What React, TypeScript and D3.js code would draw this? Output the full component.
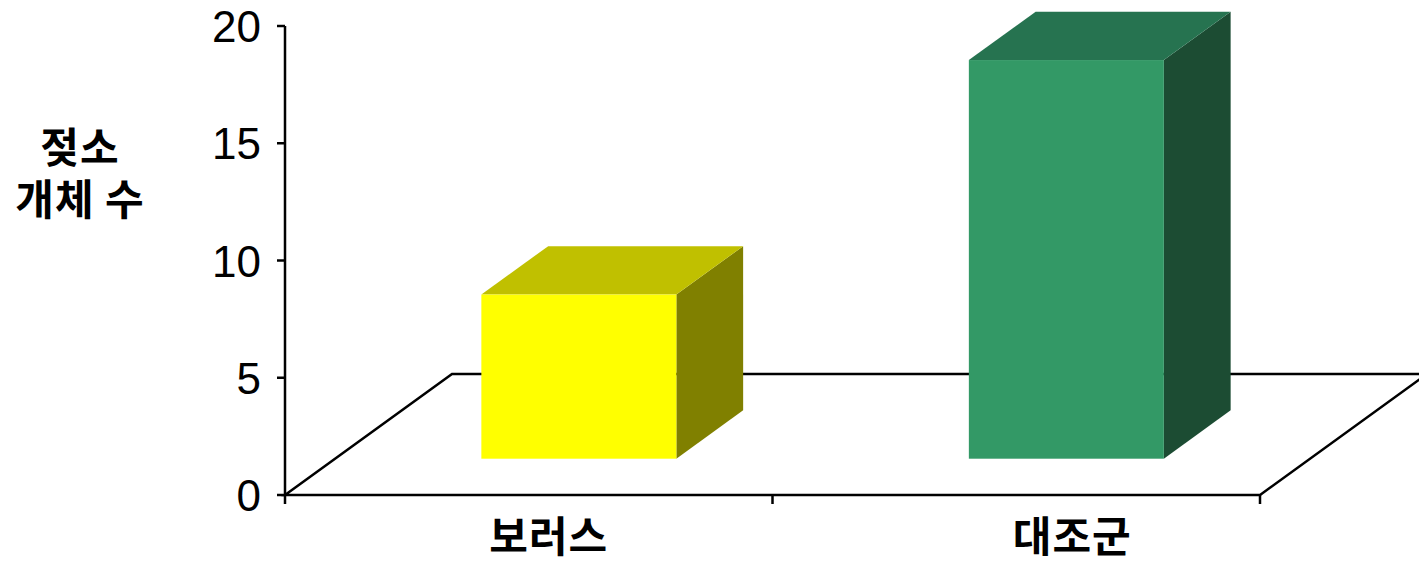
import React from "react";
import * as d3 from "d3";

const categories = ["보러스", "대조군"];
const values = [7, 17];
const yTicks = [0, 5, 10, 15, 20];
const frontColors = ["#FFFF00", "#339966"];
const topColors = ["#C0C000", "#267350"];
const sideColors = ["#808000", "#1C4C33"];
const yTitleLines = ["젖소", "개체 수"];
const labelShift = [20, 56];

export default function App() {
  const W = 1419, H = 562;
  const x0 = 285, x1 = 1260;
  const y = d3.scaleLinear().domain([0, 20]).range([495, 26]);
  const x = d3.scaleBand<string>().domain(categories).range([x0, x1]).paddingInner(0.6).paddingOuter(0.3);
  const step = x.step();
  const dX = 167, dY = -121; // floor depth vector
  const f1 = 0.3, f2 = 0.7;
  const base = y(0);
  const pt = (px: number, py: number) => `${px},${py}`;
  const korFont = "'Noto Sans CJK KR', 'Noto Sans', sans-serif";

  return (
    <svg width={W} height={H} style={{ position: "absolute", left: 0, top: 0, background: "#fff" }}>
      {/* floor */}
      <polygon
        points={[pt(x0, base), pt(x1, base), pt(x1 + dX, base + dY), pt(x0 + dX, base + dY)].join(" ")}
        fill="none" stroke="#000" strokeWidth={2.5} strokeLinejoin="miter"
      />
      {/* bars */}
      {categories.map((c, i) => {
        const bx = x(c)!;
        const bw = x.bandwidth();
        const fx = bx + f1 * dX, fy = base + f1 * dY;
        const bx2 = bx + f2 * dX, by = base + f2 * dY;
        const h = base - y(values[i]);
        const ftop = fy - h, btop = by - h;
        const ddx = bx2 - fx;
        return (
          <g key={c}>
            <polygon points={[pt(fx + bw, fy), pt(fx + bw + ddx, by), pt(fx + bw + ddx, btop), pt(fx + bw, ftop)].join(" ")} fill={sideColors[i]} />
            <polygon points={[pt(fx, ftop), pt(fx + bw, ftop), pt(fx + bw + ddx, btop), pt(fx + ddx, btop)].join(" ")} fill={topColors[i]} />
            <rect x={fx} y={ftop} width={bw} height={h} fill={frontColors[i]} />
          </g>
        );
      })}
      {/* y axis */}
      <line x1={x0} x2={x0} y1={y(20)} y2={base} stroke="#000" strokeWidth={2.5} />
      {yTicks.map((t) => (
        <g key={t}>
          <line x1={x0 - 8} x2={x0} y1={y(t)} y2={y(t)} stroke="#000" strokeWidth={2.5} />
          <text x={261} y={y(t) + 16} textAnchor="end" fontFamily="'Liberation Sans', Arial, sans-serif" fontSize={44} fill="#000">{t}</text>
        </g>
      ))}
      {/* x ticks */}
      {d3.range(categories.length + 1).map((k) => (
        <line key={k} x1={x0 + k * step} x2={x0 + k * step} y1={base} y2={base + 9} stroke="#000" strokeWidth={2.5} />
      ))}
      {/* x labels */}
      {categories.map((c, i) => (
        <text key={c} x={x(c)! + x.bandwidth() / 2 + labelShift[i]} y={552} textAnchor="middle" fontFamily={korFont} fontWeight="bold" fontSize={42} letterSpacing={1} fill="#000">{c}</text>
      ))}
      {/* y title */}
      {yTitleLines.map((l, i) => (
        <text key={l} x={80} y={163 + i * 52} textAnchor="middle" fontFamily={korFont} fontWeight="bold" fontSize={42} letterSpacing={1} fill="#000">{l}</text>
      ))}
    </svg>
  );
}
